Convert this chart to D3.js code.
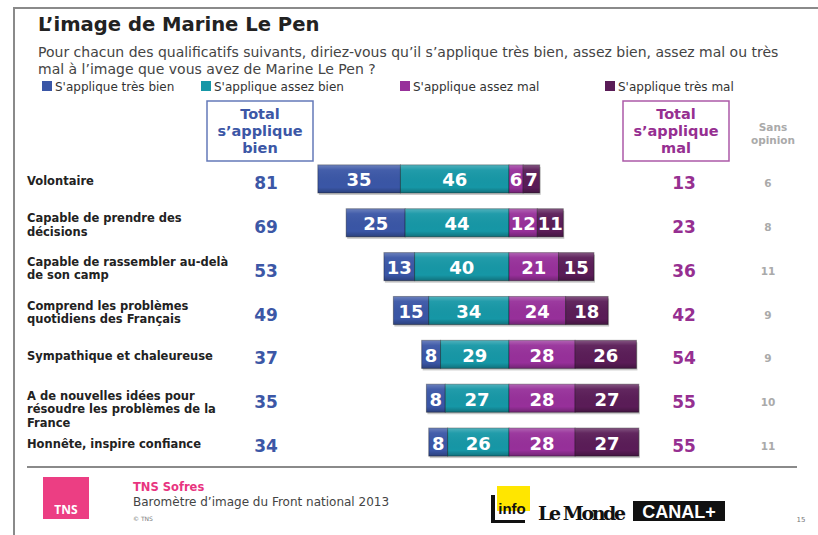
<!DOCTYPE html>
<html>
<head>
<meta charset="utf-8">
<script src="https://cdn.jsdelivr.net/npm/d3@7"></script>
<style>
  body { margin: 0; background: #fff; }
  svg text { font-family: "DejaVu Sans", Verdana, sans-serif; }
</style>
</head>
<body>
<div id="chart"></div>
<script>
// data
const qualities = [
    "Volontaire",
    "Capable de prendre des\ndécisions",
    "Capable de rassembler au-delà\nde son camp",
    "Comprend les problèmes\nquotidiens des Français",
    "Sympathique et chaleureuse",
    "A de nouvelles idées pour\nrésoudre les problèmes de la\nFrance",
    "Honnête, inspire confiance"
];
const tresBien = [35, 25, 13, 15, 8, 8, 8];
const assezBien = [46, 44, 40, 34, 29, 27, 26];
const assezMal = [6, 12, 21, 24, 28, 28, 28];
const tresMal = [7, 11, 15, 18, 26, 27, 27];
const totalBien = [81, 69, 53, 49, 37, 35, 34];
const totalMal = [13, 23, 36, 42, 54, 55, 55];
const sansOpinion = [6, 8, 11, 9, 9, 10, 11];

const seriesNames = ["S'applique très bien", "S'applique assez bien", "S'applique assez mal", "S'applique très mal"];
const seriesColors = ["#3a56a6", "#1697a6", "#97309a", "#5a1c57"];

const width = 818, height = 535;
const blue = "#3c57a6", purple = "#962f91", grey = "#aaaaaa";

const svg = d3.select("#chart").append("svg")
    .attr("width", width)
    .attr("height", height);

// slide frame
svg.append("line").attr("x1", 13).attr("x2", width).attr("y1", 8).attr("y2", 8)
    .attr("stroke", "#8a8a8a").attr("stroke-width", 2);
svg.append("line").attr("x1", 14).attr("x2", 14).attr("y1", 8).attr("y2", height)
    .attr("stroke", "#8a8a8a").attr("stroke-width", 2);

// title + question
svg.append("text").attr("x", 38).attr("y", 31)
    .style("font-size", "19.6px").style("font-weight", "bold").attr("fill", "#222")
    .text("L’image de Marine Le Pen");
const question = svg.append("text").attr("x", 38).attr("y", 57)
    .style("font-size", "14px").attr("fill", "#444");
question.append("tspan").attr("x", 38).text("Pour chacun des qualificatifs suivants, diriez-vous qu’il s’applique très bien, assez bien, assez mal ou très");
question.append("tspan").attr("x", 38).attr("dy", 17).text("mal à l’image que vous avez de Marine Le Pen ?");

// legend
const legendX = [42, 201, 400, 605];
const legend = svg.selectAll(".legend").data(seriesNames).enter().append("g")
    .attr("class", "legend")
    .attr("transform", (d, i) => `translate(${legendX[i]}, 81)`);
legend.append("rect").attr("width", 10).attr("height", 10)
    .attr("fill", (d, i) => seriesColors[i]);
legend.append("text").attr("x", 13).attr("y", 9.5)
    .style("font-size", "12px").attr("fill", "#333")
    .text(d => d);

// scales
const x = d3.scaleLinear().domain([-100, 100]).range([509 - 236, 509 + 236]);
const y = d3.scaleBand().domain(qualities).range([157, 464]).paddingInner(0.36).paddingOuter(0.18);
const rowCenter = d => y(d) + y.bandwidth() / 2;

// column headers
function headerBox(cx, lines, color) {
    svg.append("rect").attr("x", cx - 53).attr("y", 101).attr("width", 106).attr("height", 60)
        .attr("fill", "none").attr("stroke", color).attr("stroke-width", 1.5).attr("opacity", 0.8);
    svg.append("text").attr("text-anchor", "middle").attr("fill", color)
        .style("font-size", "14.5px").style("font-weight", "bold")
        .selectAll("tspan").data(lines).enter().append("tspan")
        .attr("x", cx).attr("y", (d, i) => 119 + i * 17).text(d => d);
}
headerBox(260, ["Total", "s’applique", "bien"], blue);
headerBox(676, ["Total", "s’applique", "mal"], purple);
svg.append("text").attr("text-anchor", "middle").attr("fill", grey)
    .style("font-size", "10.5px").style("font-weight", "bold")
    .selectAll("tspan").data(["Sans", "opinion"]).enter().append("tspan")
    .attr("x", 773).attr("y", (d, i) => 131 + i * 13).text(d => d);

// gradient for a slight bevel look
const defs = svg.append("defs");
const grad = defs.append("linearGradient").attr("id", "bevel").attr("x1", 0).attr("x2", 0).attr("y1", 0).attr("y2", 1);
grad.append("stop").attr("offset", "0%").attr("stop-color", "#fff").attr("stop-opacity", 0.25);
grad.append("stop").attr("offset", "18%").attr("stop-color", "#fff").attr("stop-opacity", 0.05);
grad.append("stop").attr("offset", "80%").attr("stop-color", "#000").attr("stop-opacity", 0);
grad.append("stop").attr("offset", "100%").attr("stop-color", "#000").attr("stop-opacity", 0.25);

// stacked segments
const rows = qualities.map((q, i) => {
    const vals = [tresBien[i], assezBien[i], assezMal[i], tresMal[i]];
    const starts = [-(tresBien[i] + assezBien[i]), -assezBien[i], 0, assezMal[i]];
    return { q, segs: vals.map((v, k) => ({ v, x0: starts[k], x1: starts[k] + v, k })) };
});

const rowG = svg.selectAll(".row").data(rows).enter().append("g").attr("class", "row");

// shadow under each bar
rowG.append("rect")
    .attr("x", d => x(d.segs[0].x0) + 1)
    .attr("y", d => y(d.q) + 2)
    .attr("width", d => x(d.segs[3].x1) - x(d.segs[0].x0))
    .attr("height", y.bandwidth())
    .attr("fill", "#c8c8c8");

const seg = rowG.selectAll(".seg").data(d => d.segs.map(s => Object.assign({ q: d.q }, s)))
    .enter().append("g").attr("class", "seg");
seg.append("rect")
    .attr("x", d => x(d.x0)).attr("y", d => y(d.q))
    .attr("width", d => x(d.x1) - x(d.x0)).attr("height", y.bandwidth())
    .attr("fill", d => seriesColors[d.k])
    .attr("stroke", "rgba(0,0,0,0.35)").attr("stroke-width", 1);
seg.append("rect")
    .attr("x", d => x(d.x0)).attr("y", d => y(d.q))
    .attr("width", d => x(d.x1) - x(d.x0)).attr("height", y.bandwidth())
    .attr("fill", "url(#bevel)");
seg.append("text")
    .attr("x", d => (x(d.x0) + x(d.x1)) / 2)
    .attr("y", d => rowCenter(d.q) + 1)
    .attr("text-anchor", "middle").attr("dominant-baseline", "central")
    .attr("fill", "#fff").style("font-size", "18px").style("font-weight", "bold")
    .text(d => d.v);

// row labels (three-line label sits a little lower, as on the slide)
const labels = svg.selectAll(".label").data(qualities).enter().append("text")
    .attr("class", "label").attr("fill", "#222")
    .style("font-size", "11.5px").style("font-weight", "bold");
labels.each(function(d) {
    const lines = d.split("\n");
    const c = rowCenter(d) + 2 + (lines.length > 2 ? 9 : 0);
    d3.select(this).selectAll("tspan").data(lines).enter().append("tspan")
        .attr("x", 27)
        .attr("y", (l, i) => c + (i - (lines.length - 1) / 2) * 13.5)
        .attr("dominant-baseline", "central")
        .text(l => l);
});

// totals columns
function column(values, cx, color, size) {
    svg.selectAll(null).data(values).enter().append("text")
        .attr("x", cx).attr("y", (d, i) => rowCenter(qualities[i]) + 4)
        .attr("text-anchor", "middle").attr("dominant-baseline", "central")
        .attr("fill", color).style("font-size", size).style("font-weight", "bold")
        .text(d => d);
}
column(totalBien, 266, blue, "17px");
column(totalMal, 684, purple, "17px");
column(sansOpinion, 768, grey, "10.5px");

// footer
svg.append("line").attr("x1", 27).attr("x2", 797).attr("y1", 467).attr("y2", 467)
    .attr("stroke", "#8a8a8a").attr("stroke-width", 2);
svg.append("rect").attr("x", 43).attr("y", 477).attr("width", 46).attr("height", 42).attr("fill", "#ec3e83");
svg.append("text").attr("x", 66).attr("y", 514).attr("text-anchor", "middle")
    .attr("fill", "#fff").style("font-family", "'Open Sans', sans-serif").style("font-size", "12px")
    .style("font-weight", "bold").text("TNS");
svg.append("text").attr("x", 133).attr("y", 491).attr("fill", "#e8347f")
    .style("font-size", "11.5px").style("font-weight", "bold")
    .text("TNS Sofres");
svg.append("text").attr("x", 133).attr("y", 506).attr("fill", "#444")
    .style("font-size", "12px")
    .text("Baromètre d’image du Front national 2013");
svg.append("text").attr("x", 133).attr("y", 521).attr("fill", "#777")
    .style("font-size", "6px").text("© TNS");

// partner logos
svg.append("rect").attr("x", 491).attr("y", 495).attr("width", 4).attr("height", 27).attr("fill", "#111");
svg.append("rect").attr("x", 491).attr("y", 520).attr("width", 34).attr("height", 3).attr("fill", "#111");
svg.append("rect").attr("x", 497).attr("y", 486).attr("width", 33).attr("height", 25).attr("fill", "#ffe600");
svg.append("text").attr("x", 512).attr("y", 514).attr("text-anchor", "middle").attr("fill", "#111")
    .style("font-family", "'Liberation Sans Narrow', 'Liberation Sans', sans-serif").style("font-size", "15px")
    .style("font-weight", "bold").text("info");
svg.append("text").attr("x", 538).attr("y", 520).attr("fill", "#111")
    .style("font-family", "'DejaVu Serif', serif").style("font-size", "19px").style("font-weight", "bold")
    .attr("textLength", 88).text("Le Monde");
svg.append("rect").attr("x", 633).attr("y", 501).attr("width", 92).attr("height", 20).attr("fill", "#111");
svg.append("text").attr("x", 679).attr("y", 518).attr("text-anchor", "middle").attr("fill", "#fff")
    .style("font-family", "'Liberation Sans', Arial, sans-serif").style("font-size", "18px").style("font-weight", "bold")
    .text("CANAL+");
svg.append("text").attr("x", 801).attr("y", 522).attr("text-anchor", "middle").attr("fill", "#777")
    .style("font-size", "7px").text("15");
</script>
</body>
</html>
